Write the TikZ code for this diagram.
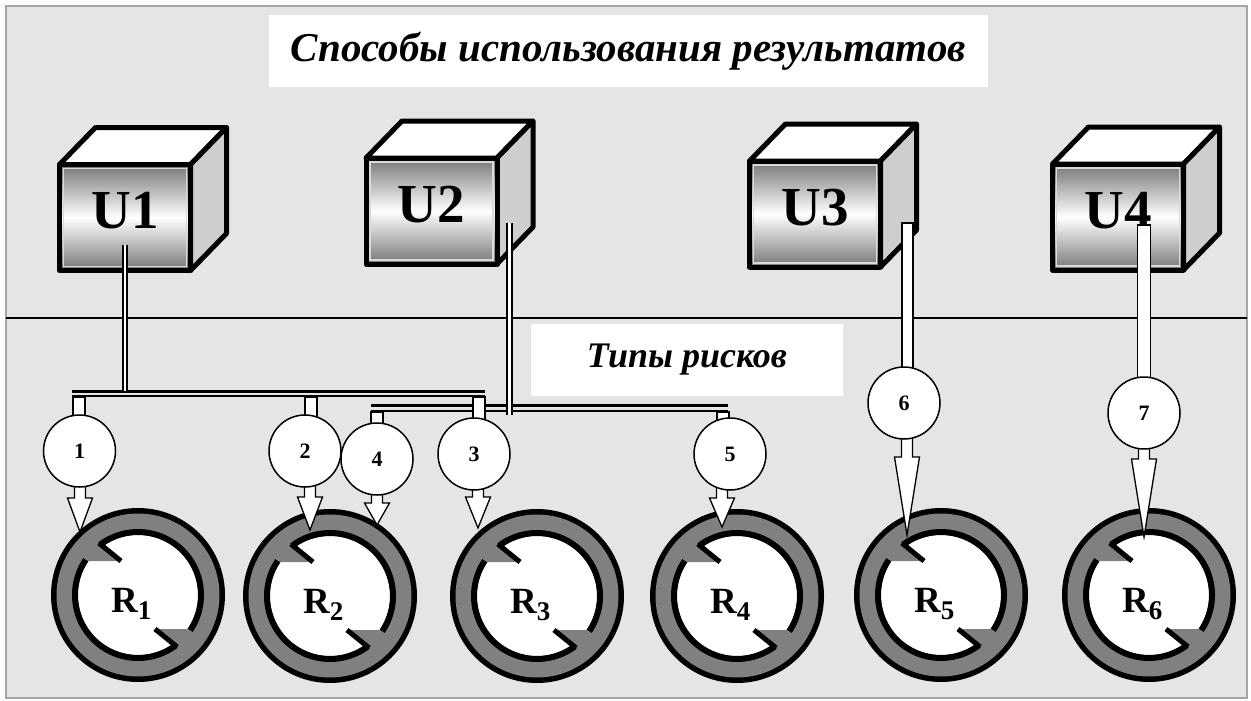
\documentclass[tikz,border=0pt]{standalone}
\usepackage{fontspec}
\setmainfont{Liberation Serif}
\usetikzlibrary{calc}
\definecolor{bgc}{RGB}{229,229,229}
\definecolor{framec}{RGB}{165,165,165}
\definecolor{ringgray}{RGB}{128,128,128}
\definecolor{sidegray}{RGB}{206,206,206}
\definecolor{facegray}{RGB}{118,118,118}
\tikzset{
 cubeline/.style={draw=black, line width=5pt, line join=round},
 cubeface/.style={rectangle, draw=black, line width=5pt, line join=round, minimum width=131pt, minimum height=106pt, inner sep=0pt, outer sep=0pt, top color=facegray, bottom color=facegray, middle color=white},
 innerframe/.style={draw=gray!30, line width=1.6pt},
 ulabel/.style={font=\fontsize{55}{55}\selectfont\bfseries, inner sep=0pt},
 rlabel/.style={font=\fontsize{37}{37}\selectfont\bfseries, inner sep=0pt},
 textbox/.style={rectangle, fill=white, inner sep=0pt, font=\fontsize{36}{36}\selectfont\bfseries\itshape},
 numc/.style={circle, draw=black, fill=white, line width=1.5pt, minimum size=72pt, inner sep=0pt, font=\fontsize{22}{22}\selectfont\bfseries},
 barline/.style={draw=black, fill=white, line width=1.3pt, line join=miter},
 busthick/.style={line width=3pt},
 busthin/.style={line width=1.4pt},
 udouble/.style={draw=black, double=white, line width=2pt, double distance=2.5pt},
}
\newcommand{\ucube}[4]{%
 \pgfmathsetmacro{\xa}{#2-65.5}%
 \pgfmathsetmacro{\xb}{#2+65.5}%
 \pgfmathsetmacro{\ya}{#3-53}%
 \pgfmathsetmacro{\yb}{#3+53}%
 \filldraw[cubeline, fill=white] (\xa,\ya) -- (\xa+36,\ya-37) -- (\xb+36,\ya-37) -- (\xb,\ya) -- cycle;
 \filldraw[cubeline, fill=sidegray] (\xb,\ya) -- (\xb+36,\ya-37) -- (\xb+36,\yb-37) -- (\xb,\yb) -- cycle;
 \node[cubeface] (#1) at (#2,#3) {};
 \draw[innerframe] ($(#1.north west)+(4,4)$) rectangle ($(#1.south east)+(-4,-4)$);
 \node[ulabel, anchor=base] (#1t) at ($(#1.center)+(0,11)$) {#4};
}
\newcommand{\riskring}[4]{%
 \begin{scope}[shift={(#2,#3)}, yscale=-1]
  \fill[black] (0,0) circle[radius=87];
  \fill[ringgray] (0,0) circle[radius=81.5];
  \fill[white] (0,0) circle[radius=60];
  \foreach \rr in {0,180}{\fill[ringgray, rotate=\rr] (-44,58) -- (-17,34) -- (-50,34) -- (-62,42) -- cycle;}
  \foreach \rr in {0,180}{%
   \draw[line width=6pt, rotate=\rr] (146:63) arc[start angle=146, end angle=307, radius=63];
   \draw[line width=5pt, rotate=\rr] (127:65) -- (-17,34);}
 \end{scope}
 \node[rlabel, anchor=base west] (#1) at (#2-27,#3+17) {R\raisebox{-7pt}{\fontsize{27}{27}\selectfont #4}};
}
% #1 circle node, #2 x offset, #3 neck below centre, #4 head length
\newcommand{\blockarrow}[4]{%
 \draw[barline] ($(#1.center)+(#2-5.5,0)$) -- ++(0,#3) -- ++(-7,0) -- ++(12.5,#4) -- ++(12.5,-#4) -- ++(-7,0) -- ++(0,-#3) -- cycle;
}
\begin{document}
\begin{tikzpicture}[x=1pt, y=-1pt]
\useasboundingbox (0,0) rectangle (1251,701);
\fill[white] (0,0) rectangle (1251,701);
\fill[bgc] (6,6) rectangle (1247,698);
\draw[framec, line width=1.5pt] (6,6) rectangle (1247,698);
\draw[black, line width=2pt] (6,318) -- (1247,318);

\node[textbox, minimum width=719pt, minimum height=72pt, font=\fontsize{41}{41}\selectfont\bfseries\itshape] (title) at (628.5,51) {Способы использования результатов};
\node[textbox, minimum width=312pt, minimum height=72pt] (types) at (687,360) {Типы рисков};

\riskring{r1}{138}{595}{1}
\riskring{r2}{330}{596}{2}
\riskring{r3}{537}{596}{3}
\riskring{r4}{737}{596}{4}
\riskring{r5}{941}{595}{5}
\riskring{r6}{1149}{595}{6}

\ucube{u1}{125}{217.5}{U1}
\ucube{u2}{431.5}{211}{U2}
\ucube{u3}{815}{214}{U3}
\ucube{u4}{1118}{217}{U4}

% positions of the numbered circles (drawn last)
\path (79.5,451) coordinate (c1p) (305,451) coordinate (c2p) (474,454) coordinate (c3p)
      (377,459) coordinate (c4p) (730,454) coordinate (c5p) (904,403) coordinate (c6p) (1144,413) coordinate (c7p);

% buses
\coordinate (b1L) at (72,391);
\coordinate (b1R) at (485,391);
\coordinate (b2L) at (371,405);
\coordinate (b2R) at (728,405);
\draw[busthick] (b1L) -- (b1R);
\draw[busthin] ($(b1L)+(0,5)$) -- ($(b1R)+(0,5)$);
\draw[udouble] ($(u1.center)+(0,27.5)$) -- (u1.center |- b1L);
\draw[busthick] (b2L) -- (b2R);
\draw[busthin] ($(b2L)+(0,6)$) -- ($(b2R)+(0,6)$);
\coordinate (u2o) at (509.5,223);
\draw[udouble] (u2o) -- ($(u2o |- b2L)+(0,10)$);

% drops
\coordinate (d1) at (79,397);
\coordinate (d2) at (311,397);
\coordinate (d3) at (479,397);
\coordinate (d4) at (377,412);
\coordinate (d5) at (723,412);
\draw[barline] ($(d1)+(-6,0)$) rectangle ($(d1 |- c1p)+(6,0)$);
\draw[barline] ($(d2)+(-6,0)$) rectangle ($(d2 |- c2p)+(6,0)$);
\draw[barline] ($(d4)+(-6,0)$) rectangle ($(d4 |- c4p)+(6,0)$);
\draw[barline] ($(d5)+(-6,0)$) rectangle ($(d5 |- c5p)+(6,0)$);
\draw[barline] ($(d3)+(-6,0)$) rectangle ($(d3 |- c3p)+(6,0)$);
\coordinate (u3o) at (907.5,223);
\coordinate (u4o) at (1144,225);
\draw[barline] ($(u3o)+(-5.5,0)$) rectangle ($(u3o |- c6p)+(5.5,0)$);
\draw[barline] ($(u4o)+(-6.5,0)$) rectangle ($(u4o |- c7p)+(6.5,0)$);

% block arrows
\blockarrow{c1p}{0.5}{47}{34}
\blockarrow{c2p}{5}{46}{33}
\blockarrow{c4p}{0}{44}{22}
\blockarrow{c3p}{4}{43}{31}
\blockarrow{c5p}{-8}{44}{29}
\blockarrow{c6p}{3}{54}{78}
\blockarrow{c7p}{0}{46}{78}

% circles
\node[numc] (c1) at (c1p) {1};
\node[numc] (c2) at (c2p) {2};
\node[numc] (c3) at (c3p) {3};
\node[numc] (c4) at (c4p) {4};
\node[numc] (c5) at (c5p) {5};
\node[numc] (c6) at (c6p) {6};
\node[numc] (c7) at (c7p) {7};
\end{tikzpicture}
\end{document}
